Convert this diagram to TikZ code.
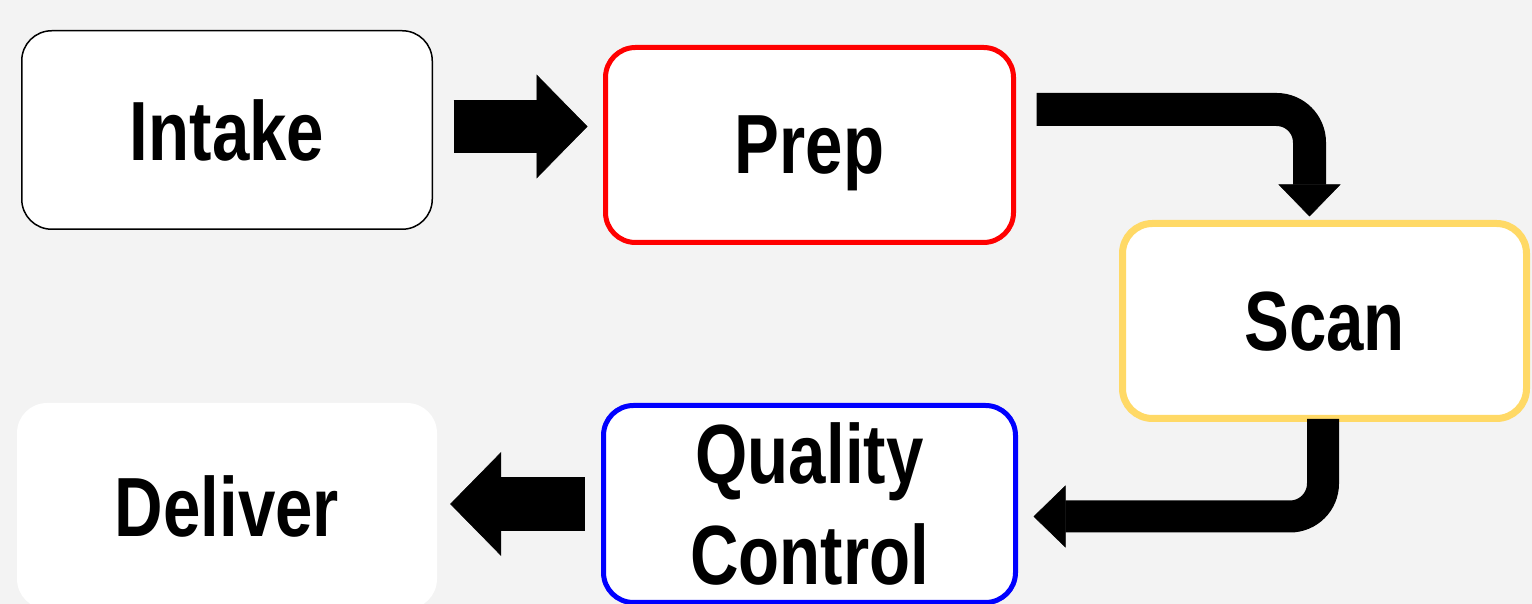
\documentclass[tikz,border=0pt]{standalone}
\usepackage{fontspec}
\setmainfont{Liberation Sans}[FakeStretch=0.8]
\usetikzlibrary{arrows.meta, positioning}

\definecolor{fondo}{HTML}{F3F3F3}
\definecolor{amarillo}{HTML}{FFD966}

\tikzset{
  caja/.style={rectangle, rounded corners=30pt, fill=white, align=center, inner sep=0pt, text depth=0pt,
    font=\fontsize{84}{101}\selectfont\bfseries},
  bloque/.style={line width=53pt, -{Triangle[width=104pt, length=51pt, line width=0.5pt]}},
  codo/.style={line width=33pt, rounded corners=33pt, -{Triangle[width=62pt, length=32pt, line width=0.5pt]}},
}

\begin{document}
\begin{tikzpicture}[x=1pt, y=1pt]
%Fondo
\fill[fondo] (0,0) rectangle (1532,604);
\useasboundingbox (0,0) rectangle (1532,604);

%Cajas
\node[caja, draw=black, line width=1.5pt, minimum width=410.5pt, minimum height=198.5pt] (intake) at (227,474) {Intake};
\node[caja, draw=red, line width=5pt, minimum width=408pt, minimum height=195pt] (prep) at (809.5,459) {Prep};
\node[caja, draw=amarillo, line width=7pt, minimum width=404pt, minimum height=195pt] (scan) at (1324.5,283) {Scan};
\node[caja, draw=blue, line width=5pt, minimum width=412pt, minimum height=197pt] (qc) at (809.5,100) {Quality\\Control};
\node[caja, minimum width=420pt, minimum height=206pt] (deliver) at (227,98) {Deliver};

%Flechas
\coordinate (a1) at ([yshift=3.5pt]intake.east);
\draw[bloque, shorten <=20.5pt, shorten >=15.5pt] (a1) -- (a1 -| prep.west);
\draw[codo, shorten <=20.5pt, shorten >=3.5pt] ([yshift=35.5pt]prep.east) -| ([xshift=-15pt]scan.north);
\draw[codo, line width=32pt, shorten <=-3pt, shorten >=15.5pt] ([xshift=-1.5pt]scan.south) |- ([yshift=-12.5pt]qc.east);
\draw[bloque, line width=54pt, shorten <=16.5pt, shorten >=13pt] (qc.west) -- (qc.west -| deliver.east);
\end{tikzpicture}
\end{document}
